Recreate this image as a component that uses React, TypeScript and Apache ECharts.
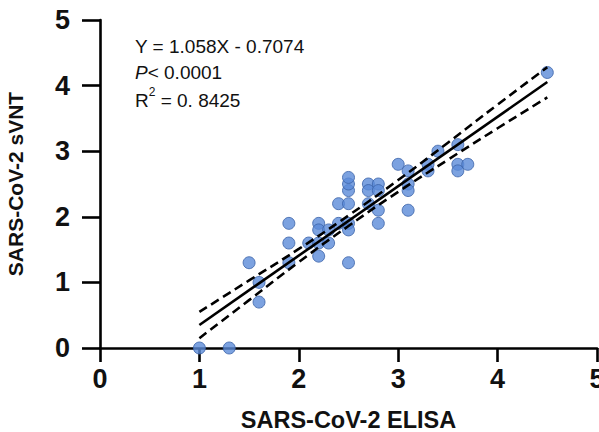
import React, { useEffect, useRef } from "react";
import * as echarts from "echarts";

// Scatter data: [ELISA, sVNT]
const elisa = [
  1.0, 1.3, 1.5, 1.6, 1.6, 1.9, 1.9, 1.9, 2.1, 2.2, 2.2, 2.2, 2.2, 2.3, 2.3,
  2.4, 2.4, 2.5, 2.5, 2.5, 2.5, 2.5, 2.5, 2.5, 2.7, 2.7, 2.7, 2.8, 2.8, 2.8,
  2.8, 3.0, 3.1, 3.1, 3.1, 3.1, 3.3, 3.3, 3.4, 3.6, 3.6, 3.6, 3.7, 4.5,
];
const svnt = [
  0.0, 0.0, 1.3, 1.0, 0.7, 1.9, 1.6, 1.3, 1.6, 1.9, 1.8, 1.6, 1.4, 1.8, 1.6,
  1.9, 2.2, 2.2, 2.4, 2.5, 2.6, 1.9, 1.8, 1.3, 2.5, 2.4, 2.2, 2.5, 2.4, 2.1,
  1.9, 2.8, 2.7, 2.5, 2.4, 2.1, 2.8, 2.7, 3.0, 3.1, 2.8, 2.7, 2.8, 4.2,
];

// Regression line end points and 95% confidence band
const fitX = [1.0, 4.5];
const fitY = [0.351, 4.054];
const bandX = [1.0, 1.5, 2.0, 2.5, 3.0, 3.5, 4.0, 4.5];
const upperBand = [0.55, 1.03, 1.51, 2.02, 2.56, 3.13, 3.71, 4.28];
const lowerBand = [0.15, 0.73, 1.31, 1.86, 2.38, 2.87, 3.35, 3.82];

const xTicks = [0, 1, 2, 3, 4, 5];
const yTicks = [0, 1, 2, 3, 4, 5];

const xTitle = "SARS-CoV-2 ELISA";
const yTitle = "SARS-CoV-2 sVNT";
const eqLine = "Y = 1.058X - 0.7074";
const pLine = "< 0.0001";
const rLine = " = 0. 8425";

const SANS = "'Liberation Sans', Arial, Helvetica, sans-serif";

export default function App() {
  const ref = useRef<HTMLDivElement>(null);

  useEffect(() => {
    if (!ref.current) return;
    document.body.style.margin = "0";
    document.body.style.overflow = "hidden";
    const chart = echarts.init(ref.current, undefined, { renderer: "svg" });
    const pts = elisa.map((x, i) => [x, svnt[i]]);
    const dashed = {
      type: "line",
      smooth: true,
      symbol: "none",
      silent: true,
      lineStyle: { color: "#000", width: 2.6, type: [9, 5] },
      z: 3,
    };
    chart.setOption({
      animation: false,
      backgroundColor: "#fff",
      grid: {
        left: 100,
        right: 2,
        top: 20,
        bottom: 84,
        containLabel: false,
        outerBoundsMode: "none",
      },
      xAxis: {
        type: "value",
        min: 0,
        max: 5,
        interval: 1,
        splitLine: { show: false },
        axisLine: { show: true, onZero: false, lineStyle: { color: "#000", width: 2.6 } },
        axisTick: { show: true, length: 14, lineStyle: { color: "#000", width: 2.6 } },
        axisLabel: {
          margin: 17,
          color: "#111",
          fontFamily: SANS,
          fontWeight: "bold",
          fontSize: 27,
          formatter: (v: number) => (xTicks.includes(v) ? String(v) : ""),
        },
        name: xTitle,
        nameLocation: "middle",
        nameGap: 60,
        nameTextStyle: {
          color: "#111",
          fontFamily: SANS,
          fontWeight: "bold",
          fontSize: 23.5,
        },
      },
      yAxis: {
        type: "value",
        min: 0,
        max: 5,
        interval: 1,
        splitLine: { show: false },
        axisLine: { show: true, onZero: false, lineStyle: { color: "#000", width: 2.6 } },
        axisTick: { show: true, length: 18, lineStyle: { color: "#000", width: 2.6 } },
        axisLabel: {
          margin: 30,
          color: "#111",
          fontFamily: SANS,
          fontWeight: "bold",
          fontSize: 27,
          formatter: (v: number) => (yTicks.includes(v) ? String(v) : ""),
        },
        name: yTitle,
        nameLocation: "middle",
        nameGap: 74,
        nameTextStyle: {
          color: "#111",
          fontFamily: SANS,
          fontWeight: "bold",
          fontSize: 21,
        },
      },
      graphic: [
        {
          type: "text",
          left: 135,
          top: 37,
          style: { text: eqLine, font: `19px ${SANS}`, fill: "#111" },
        },
        {
          type: "text",
          left: 135,
          top: 63,
          style: {
            text: "{i|P}{n|" + pLine + "}",
            rich: {
              i: { font: `italic 19px ${SANS}`, fill: "#111" },
              n: { font: `19px ${SANS}`, fill: "#111" },
            },
          },
        },
        {
          type: "text",
          left: 135,
          top: 86,
          style: {
            text: "{n|R}{s|2}{n|" + rLine + "}",
            rich: {
              n: { font: `19px ${SANS}`, fill: "#111", verticalAlign: "bottom", lineHeight: 24 },
              s: { font: `12px ${SANS}`, fill: "#111", verticalAlign: "top", lineHeight: 24 },
            },
          },
        },
      ],
      series: [
        {
          type: "scatter",
          data: pts,
          symbol: "circle",
          symbolSize: 12,
          itemStyle: { color: "#5b8bd8", borderColor: "#3a62a8", borderWidth: 1 },
          z: 2,
        },
        {
          type: "line",
          data: fitX.map((x, i) => [x, fitY[i]]),
          symbol: "none",
          silent: true,
          lineStyle: { color: "#000", width: 2.6 },
          z: 3,
        },
        { ...dashed, data: bandX.map((x, i) => [x, upperBand[i]]) },
        { ...dashed, data: bandX.map((x, i) => [x, lowerBand[i]]) },
      ],
    });
    return () => chart.dispose();
  }, []);

  return (
    <div
      ref={ref}
      style={{ width: 599, height: 432, position: "absolute", left: 0, top: 0, overflow: "hidden" }}
    />
  );
}
